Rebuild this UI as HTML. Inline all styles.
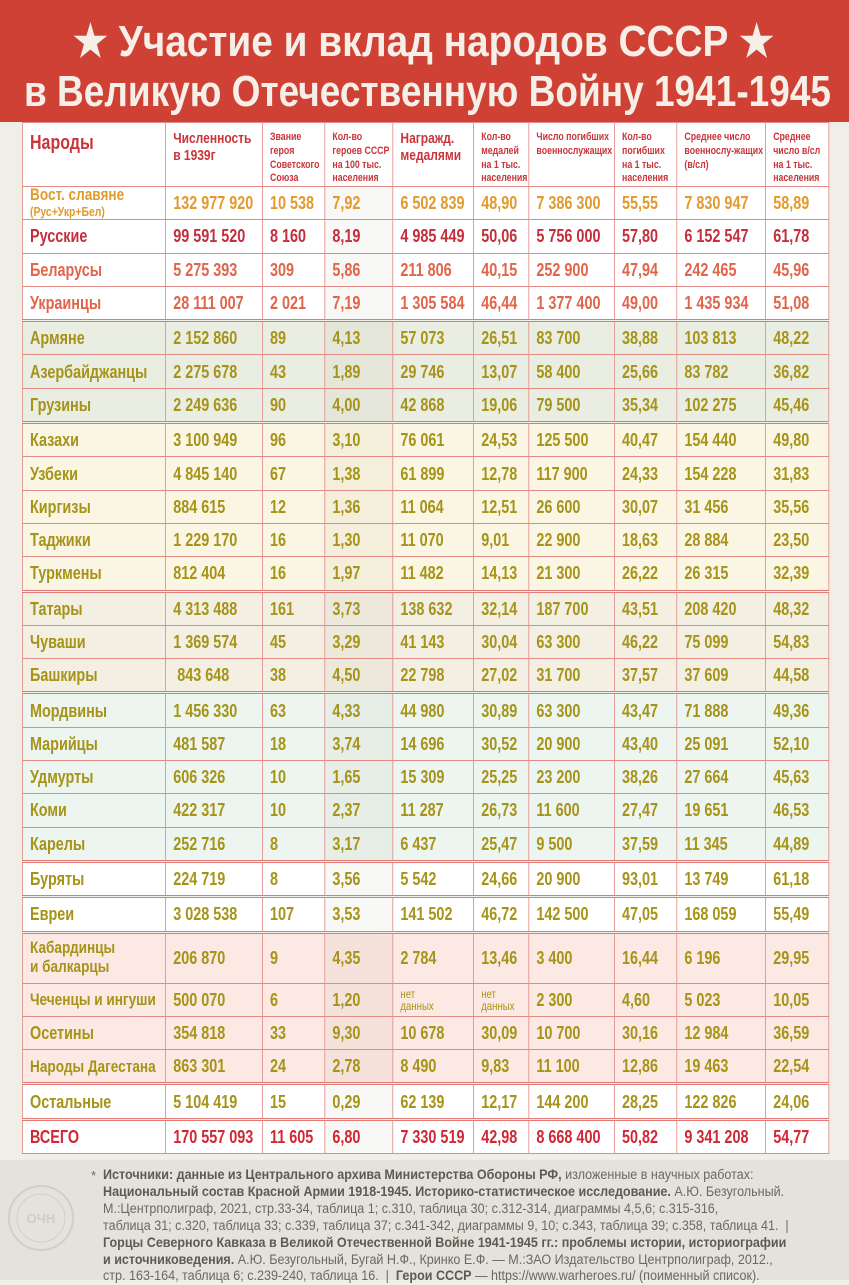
<!DOCTYPE html>
<html><head><meta charset="utf-8">
<style>
html,body{margin:0;padding:0}
body{width:849px;height:1280px;background:#efeee7;position:relative;overflow:hidden;font-family:"Liberation Sans",sans-serif}
#hdr{position:absolute;left:0;top:0;width:849px;height:122px;background:#cf4134}
table{position:absolute;left:22px;top:122px;border-collapse:collapse;table-layout:fixed;width:1008px;transform:scaleX(0.8);transform-origin:0 0}
td{border:1px solid #e28a86;padding:0 0 0 9px;font-weight:bold;font-size:18px;height:32.3px;line-height:1;vertical-align:middle;white-space:nowrap;overflow:hidden}
tr.h td{height:52px;vertical-align:top;padding-top:8px;color:#c8353a;font-size:11px;line-height:1.25;background:#fff;white-space:normal}
tr.h td.b{font-size:15px;line-height:1.1}
tr.h td.n{font-size:20px}
td.c4{background-image:linear-gradient(rgba(80,80,40,.045),rgba(80,80,40,.045))}
tr.g td{border-top:3px double #e07a76}
.sl td{background-color:#fff}
.ca td{background-color:#eaede1}
.as td{background-color:#fbf6e3}
.vo td{background-color:#f3efe3}
.fi td{background-color:#ecf5ef}
.wh td{background-color:#fff}
.nc td{background-color:#fce9e3}
.or{color:#e39a2c}.rd{color:#c32f3d}.sa{color:#e0654a}.ol{color:#a59419}.tot{color:#d02835}
td.s{font-size:12px;font-weight:normal;line-height:1}
#foot{position:absolute;left:0;top:1160px;width:849px;height:120px;background:#e4e2da}
#foot p{margin:0;position:absolute;left:103px;top:7px;width:900px;font-size:13.5px;line-height:16.9px;color:#6b6860;transform:scaleX(0.93);transform-origin:0 0;white-space:nowrap}
#foot b{color:#5d5a52}
</style></head><body>
<div id="hdr">
<svg width="849" height="122" style="position:absolute;left:0;top:0">
<text x="73" y="56" textLength="701" lengthAdjust="spacingAndGlyphs" fill="#f6efe8" font-family="Liberation Sans,sans-serif" font-weight="bold" font-size="44">★ Участие и вклад народов СССР ★</text>
<text x="24" y="106" textLength="807" lengthAdjust="spacingAndGlyphs" fill="#f6efe8" font-family="Liberation Sans,sans-serif" font-weight="bold" font-size="44">в Великую Отечественную Войну 1941-1945</text>
</svg></div>
<table>
<colgroup><col style="width:179px"><col style="width:121px"><col style="width:78px"><col style="width:85px"><col style="width:101px"><col style="width:69px"><col style="width:107px"><col style="width:78px"><col style="width:111px"><col style="width:79px"></colgroup>
<tr class="h"><td class="n">Народы</td><td class="b" style="font-size:15px">Численность в 1939г</td><td>Звание героя Советского Союза</td><td class="c4">Кол-во героев СССР на 100 тыс. населения</td><td class="b">Награжд. медалями</td><td>Кол-во медалей на 1 тыс. населения</td><td>Число погибших военнослужащих</td><td>Кол-во погибших на 1 тыс. населения</td><td>Среднее число военнослу-жащих (в/сл)</td><td>Среднее число в/сл на 1 тыс. населения</td></tr>
<tr class="sl or"><td style="font-size:17px;line-height:.95">Вост. славяне<br><span style="font-size:13px">(Рус+Укр+Бел)</span></td><td>132 977 920</td><td>10 538</td><td class="c4">7,92</td><td>6 502 839</td><td>48,90</td><td>7 386 300</td><td>55,55</td><td>7 830 947</td><td>58,89</td></tr>
<tr class="sl rd"><td>Русские</td><td>99 591 520</td><td>8 160</td><td class="c4">8,19</td><td>4 985 449</td><td>50,06</td><td>5 756 000</td><td>57,80</td><td>6 152 547</td><td>61,78</td></tr>
<tr class="sl sa"><td>Беларусы</td><td>5 275 393</td><td>309</td><td class="c4">5,86</td><td>211 806</td><td>40,15</td><td>252 900</td><td>47,94</td><td>242 465</td><td>45,96</td></tr>
<tr class="sl sa"><td>Украинцы</td><td>28 111 007</td><td>2 021</td><td class="c4">7,19</td><td>1 305 584</td><td>46,44</td><td>1 377 400</td><td>49,00</td><td>1 435 934</td><td>51,08</td></tr>
<tr class="ca ol g"><td>Армяне</td><td>2 152 860</td><td>89</td><td class="c4">4,13</td><td>57 073</td><td>26,51</td><td>83 700</td><td>38,88</td><td>103 813</td><td>48,22</td></tr>
<tr class="ca ol"><td>Азербайджанцы</td><td>2 275 678</td><td>43</td><td class="c4">1,89</td><td>29 746</td><td>13,07</td><td>58 400</td><td>25,66</td><td>83 782</td><td>36,82</td></tr>
<tr class="ca ol"><td>Грузины</td><td>2 249 636</td><td>90</td><td class="c4">4,00</td><td>42 868</td><td>19,06</td><td>79 500</td><td>35,34</td><td>102 275</td><td>45,46</td></tr>
<tr class="as ol g"><td>Казахи</td><td>3 100 949</td><td>96</td><td class="c4">3,10</td><td>76 061</td><td>24,53</td><td>125 500</td><td>40,47</td><td>154 440</td><td>49,80</td></tr>
<tr class="as ol"><td>Узбеки</td><td>4 845 140</td><td>67</td><td class="c4">1,38</td><td>61 899</td><td>12,78</td><td>117 900</td><td>24,33</td><td>154 228</td><td>31,83</td></tr>
<tr class="as ol"><td>Киргизы</td><td>884 615</td><td>12</td><td class="c4">1,36</td><td>11 064</td><td>12,51</td><td>26 600</td><td>30,07</td><td>31 456</td><td>35,56</td></tr>
<tr class="as ol"><td>Таджики</td><td>1 229 170</td><td>16</td><td class="c4">1,30</td><td>11 070</td><td>9,01</td><td>22 900</td><td>18,63</td><td>28 884</td><td>23,50</td></tr>
<tr class="as ol"><td>Туркмены</td><td>812 404</td><td>16</td><td class="c4">1,97</td><td>11 482</td><td>14,13</td><td>21 300</td><td>26,22</td><td>26 315</td><td>32,39</td></tr>
<tr class="vo ol g"><td>Татары</td><td>4 313 488</td><td>161</td><td class="c4">3,73</td><td>138 632</td><td>32,14</td><td>187 700</td><td>43,51</td><td>208 420</td><td>48,32</td></tr>
<tr class="vo ol"><td>Чуваши</td><td>1 369 574</td><td>45</td><td class="c4">3,29</td><td>41 143</td><td>30,04</td><td>63 300</td><td>46,22</td><td>75 099</td><td>54,83</td></tr>
<tr class="vo ol"><td>Башкиры</td><td>&nbsp;843 648</td><td>38</td><td class="c4">4,50</td><td>22 798</td><td>27,02</td><td>31 700</td><td>37,57</td><td>37 609</td><td>44,58</td></tr>
<tr class="fi ol g"><td>Мордвины</td><td>1 456 330</td><td>63</td><td class="c4">4,33</td><td>44 980</td><td>30,89</td><td>63 300</td><td>43,47</td><td>71 888</td><td>49,36</td></tr>
<tr class="fi ol"><td>Марийцы</td><td>481 587</td><td>18</td><td class="c4">3,74</td><td>14 696</td><td>30,52</td><td>20 900</td><td>43,40</td><td>25 091</td><td>52,10</td></tr>
<tr class="fi ol"><td>Удмурты</td><td>606 326</td><td>10</td><td class="c4">1,65</td><td>15 309</td><td>25,25</td><td>23 200</td><td>38,26</td><td>27 664</td><td>45,63</td></tr>
<tr class="fi ol"><td>Коми</td><td>422 317</td><td>10</td><td class="c4">2,37</td><td>11 287</td><td>26,73</td><td>11 600</td><td>27,47</td><td>19 651</td><td>46,53</td></tr>
<tr class="fi ol"><td>Карелы</td><td>252 716</td><td>8</td><td class="c4">3,17</td><td>6 437</td><td>25,47</td><td>9 500</td><td>37,59</td><td>11 345</td><td>44,89</td></tr>
<tr class="wh ol g"><td>Буряты</td><td>224 719</td><td>8</td><td class="c4">3,56</td><td>5 542</td><td>24,66</td><td>20 900</td><td>93,01</td><td>13 749</td><td>61,18</td></tr>
<tr class="wh ol g"><td>Евреи</td><td>3 028 538</td><td>107</td><td class="c4">3,53</td><td>141 502</td><td>46,72</td><td>142 500</td><td>47,05</td><td>168 059</td><td>55,49</td></tr>
<tr class="nc ol g"><td style="height:49px;font-size:17px;line-height:1.1">Кабардинцы<br>и балкарцы</td><td>206 870</td><td>9</td><td class="c4">4,35</td><td>2 784</td><td>13,46</td><td>3 400</td><td>16,44</td><td>6 196</td><td>29,95</td></tr>
<tr class="nc ol"><td style="font-size:17px">Чеченцы и ингуши</td><td>500 070</td><td>6</td><td class="c4">1,20</td><td class="s">нет<br>данных</td><td class="s">нет<br>данных</td><td>2 300</td><td>4,60</td><td>5 023</td><td>10,05</td></tr>
<tr class="nc ol"><td>Осетины</td><td>354 818</td><td>33</td><td class="c4">9,30</td><td>10 678</td><td>30,09</td><td>10 700</td><td>30,16</td><td>12 984</td><td>36,59</td></tr>
<tr class="nc ol"><td style="font-size:17px">Народы Дагестана</td><td>863 301</td><td>24</td><td class="c4">2,78</td><td>8 490</td><td>9,83</td><td>11 100</td><td>12,86</td><td>19 463</td><td>22,54</td></tr>
<tr class="wh ol g"><td>Остальные</td><td>5 104 419</td><td>15</td><td class="c4">0,29</td><td>62 139</td><td>12,17</td><td>144 200</td><td>28,25</td><td>122 826</td><td>24,06</td></tr>
<tr class="wh tot g"><td>ВСЕГО</td><td>170 557 093</td><td>11 605</td><td class="c4">6,80</td><td>7 330 519</td><td>42,98</td><td>8 668 400</td><td>50,82</td><td>9 341 208</td><td>54,77</td></tr>
</table>
<div id="foot">
<svg width="80" height="120" style="position:absolute;left:0;top:0"><circle cx="41" cy="58" r="32" fill="none" stroke="#d2cfc6" stroke-width="2"/><circle cx="41" cy="58" r="24" fill="none" stroke="#d2cfc6" stroke-width="1"/><text x="41" y="63" text-anchor="middle" font-size="13" font-weight="bold" fill="#cfccc3" font-family="Liberation Sans,sans-serif">ОЧН</text></svg>
<span style="position:absolute;left:91px;top:8px;font-size:13px;color:#6b6860">*</span>
<p><b>Источники: данные из Центрального архива Министерства Обороны РФ,</b> изложенные в научных работах:<br><b>Национальный состав Красной Армии 1918-1945. Историко-статистическое исследование.</b> А.Ю. Безугольный.<br>М.:Центрполиграф, 2021, стр.33-34, таблица 1; с.310, таблица 30; с.312-314, диаграммы 4,5,6; с.315-316,<br>таблица 31; с.320, таблица 33; с.339, таблица 37; с.341-342, диаграммы 9, 10; с.343, таблица 39; с.358, таблица 41. &nbsp;|<br><b>Горцы Северного Кавказа в Великой Отечественной Войне 1941-1945 гг.: проблемы истории, историографии<br>и источниковедения.</b> А.Ю. Безугольный, Бугай Н.Ф., Кринко Е.Ф. — М.:ЗАО Издательство Центрполиграф, 2012.,<br>стр. 163-164, таблица 6; с.239-240, таблица 16. &nbsp;| &nbsp;<b>Герои СССР</b> — https://www.warheroes.ru/ (поименный список).</p>
</div>
</body></html>
